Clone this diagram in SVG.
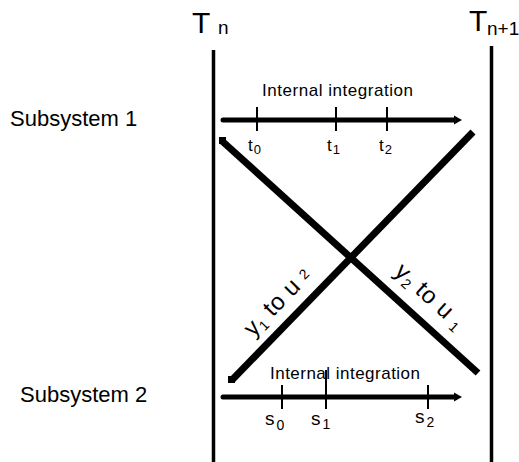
<svg xmlns="http://www.w3.org/2000/svg" width="519" height="462" viewBox="0 0 519 462">
<style>
  text { font-family: "Liberation Sans", Arial, sans-serif; fill: #000; }
  .sys { font-size: 22px; }
  .int { font-size: 17px; }
  .big { font-size: 30px; }
  .sub { font-size: 19px; }
  .lbl { font-size: 17px; }
  .lsub { font-size: 13px; }
  .slbl { font-size: 19px; }
  .ssub { font-size: 14px; }
  .rot { font-size: 24px; }
  .rsub { font-size: 14px; }
  .bar { stroke: #000; stroke-width: 3.5; fill: none; }
  .tl { stroke: #000; stroke-width: 5; stroke-linecap: round; fill: none; }
  .tick { stroke: #000; stroke-width: 2; fill: none; }
  .diag { stroke: #000; stroke-width: 7; fill: none; }
</style>
<defs>
  <marker id="ah" markerUnits="userSpaceOnUse" markerWidth="10" markerHeight="10" refX="1" refY="5" orient="auto">
    <path d="M0,0.5 L8,5 L0,9.5 Z" fill="#000"/>
  </marker>
</defs>

<g id="Tn">
  <line class="bar" x1="213.5" y1="50" x2="213.5" y2="462"/>
  <text class="big" x="192" y="33">T</text>
  <text class="sub" x="218" y="34">n</text>
</g>
<g id="Tn1">
  <line class="bar" x1="491.5" y1="46" x2="491.5" y2="462"/>
  <text class="big" x="469" y="31">T</text>
  <text class="sub" x="487" y="35">n+1</text>
</g>

<g id="subsystem1">
  <text class="sys" x="10" y="126">Subsystem 1</text>
  <text class="int" x="262" y="96" textLength="151" lengthAdjust="spacing">Internal integration</text>
  <line class="tick" x1="257" y1="107" x2="257" y2="131"/>
  <line class="tick" x1="336" y1="107" x2="336" y2="131"/>
  <line class="tick" x1="387" y1="107" x2="387" y2="131"/>
  <text class="lbl" x="248" y="151">t<tspan class="lsub" dx="1" dy="3">0</tspan></text>
  <text class="lbl" x="327" y="151">t<tspan class="lsub" dx="1" dy="3">1</tspan></text>
  <text class="lbl" x="379" y="151">t<tspan class="lsub" dx="1" dy="3">2</tspan></text>
</g>

<g id="subsystem2">
  <text class="sys" x="20" y="402">Subsystem 2</text>
  <text class="int" x="270" y="379" textLength="150" lengthAdjust="spacing">Internal integration</text>
  <line class="tick" x1="282" y1="385" x2="282" y2="409"/>
  <line class="tick" x1="326" y1="370" x2="326" y2="409"/>
  <line class="tick" x1="428" y1="385" x2="428" y2="409"/>
  <text class="slbl" x="265" y="425">s<tspan class="ssub" dx="2" dy="5">0</tspan></text>
  <text class="slbl" x="311" y="425">s<tspan class="ssub" dx="2" dy="4">1</tspan></text>
  <text class="slbl" x="415" y="423">s<tspan class="ssub" dx="2" dy="4">2</tspan></text>
</g>

<g id="connectors">
  <line class="tl" x1="223" y1="120" x2="455" y2="120" marker-end="url(#ah)"/>
  <line class="tl" x1="223" y1="397" x2="455" y2="397" marker-end="url(#ah)"/>
  <line class="diag" x1="222" y1="141" x2="478" y2="373"/>
  <rect x="219" y="137" width="7" height="7" fill="#000"/>
  <line class="diag" x1="232" y1="380" x2="473" y2="132"/>
  <rect x="228" y="376" width="7" height="7" fill="#000"/>
</g>

<g id="label-y1u2">
  <text class="rot" text-anchor="middle" letter-spacing="0.5" transform="translate(283,307) rotate(-45.8)">y<tspan class="rsub" dy="4">1</tspan><tspan dy="-4"> to u </tspan><tspan class="rsub" dy="-3">2</tspan></text>
</g>
<g id="label-y2u1">
  <text class="rot" text-anchor="middle" letter-spacing="0.5" transform="translate(425,302) rotate(42.2)">y<tspan class="rsub" dy="4">2</tspan><tspan dy="-4"> to u </tspan><tspan class="rsub" dy="4">1</tspan></text>
</g>
</svg>
